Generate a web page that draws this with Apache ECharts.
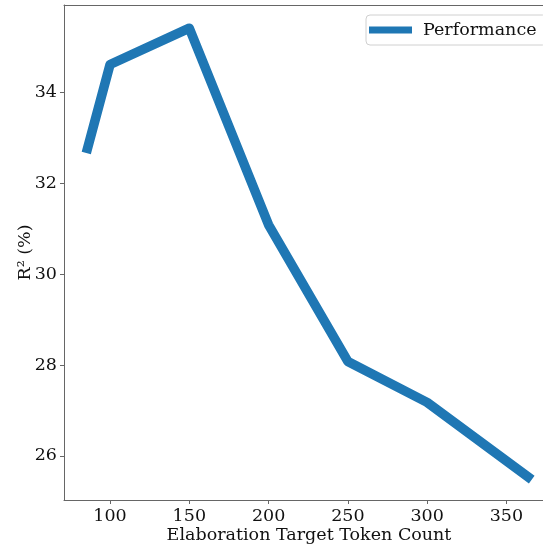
<!DOCTYPE html>
<html>
<head>
<meta charset="utf-8">
<script src="https://cdn.jsdelivr.net/npm/echarts@6/dist/echarts.min.js"></script>
<style>html,body{margin:0;padding:0;background:#fff;}#chart{width:543px;height:548px;}</style>
</head>
<body>
<div id="chart"></div>
<script>
const tokenCounts = [85, 100, 150, 200, 250, 300, 366];
const performance = [32.67, 34.62, 35.42, 31.09, 28.08, 27.18, 25.48];
const xTicks = [100, 150, 200, 250, 300, 350];
const yTicks = [26, 28, 30, 32, 34];

const FONT = '"DejaVu Serif", serif';
const chart = echarts.init(document.getElementById('chart'), null, {renderer: 'canvas'});
chart.setOption({
  animation: false,
  backgroundColor: '#fff',
  grid: {left: 64, top: 5, width: 490, height: 495, outerBoundsMode: 'none', containLabel: false},
  legend: {
    left: 366, top: 15, padding: [6, 10, 6, 3],
    data: ['Performance'],
    borderColor: '#d0d0d0', borderWidth: 1, borderRadius: 4, backgroundColor: '#fff',
    itemWidth: 43, itemHeight: 7, itemGap: 11, icon: 'rect',
    textStyle: {fontFamily: FONT, fontSize: 17.5, color: '#111', padding: [0, 0, 0, 6]}
  },
  xAxis: [{
    type: 'value', min: 70.95, max: 380.05,
    name: 'Elaboration Target Token Count', nameLocation: 'middle', nameGap: 26, nameMoveOverlap: false,
    nameTextStyle: {fontFamily: FONT, fontSize: 17.5, color: '#111'},
    axisLine: {show: true, lineStyle: {color: '#666', width: 1}},
    axisTick: {show: true, length: 4, lineStyle: {color: '#666'}, customValues: xTicks},
    axisLabel: {fontFamily: FONT, fontSize: 17.5, color: '#111', margin: 7, customValues: xTicks},
    splitLine: {show: false}
  }, {
    type: 'value', position: 'top', min: 70.95, max: 380.05,
    axisLine: {show: true, lineStyle: {color: '#666', width: 1}},
    axisTick: {show: false}, axisLabel: {show: false}, splitLine: {show: false}
  }],
  yAxis: {
    type: 'value', min: 25.03, max: 35.93,
    name: 'R² (%)', nameLocation: 'middle', nameGap: 30, nameRotate: 90, nameMoveOverlap: false,
    nameTextStyle: {fontFamily: FONT, fontSize: 17.5, color: '#111'},
    axisLine: {show: true, lineStyle: {color: '#666', width: 1}},
    axisTick: {show: true, length: 4, lineStyle: {color: '#666'}, customValues: yTicks},
    axisLabel: {fontFamily: FONT, fontSize: 17.5, color: '#111', margin: 7, customValues: yTicks},
    splitLine: {show: false}
  },
  series: [{
    name: 'Performance', type: 'line', xAxisIndex: 0,
    data: tokenCounts.map((x, i) => [x, performance[i]]),
    showSymbol: false, symbol: 'none',
    lineStyle: {color: '#1f77b4', width: 9.5, cap: 'butt', join: 'round'},
    itemStyle: {color: '#1f77b4'}
  }]
});
</script>
</body>
</html>
